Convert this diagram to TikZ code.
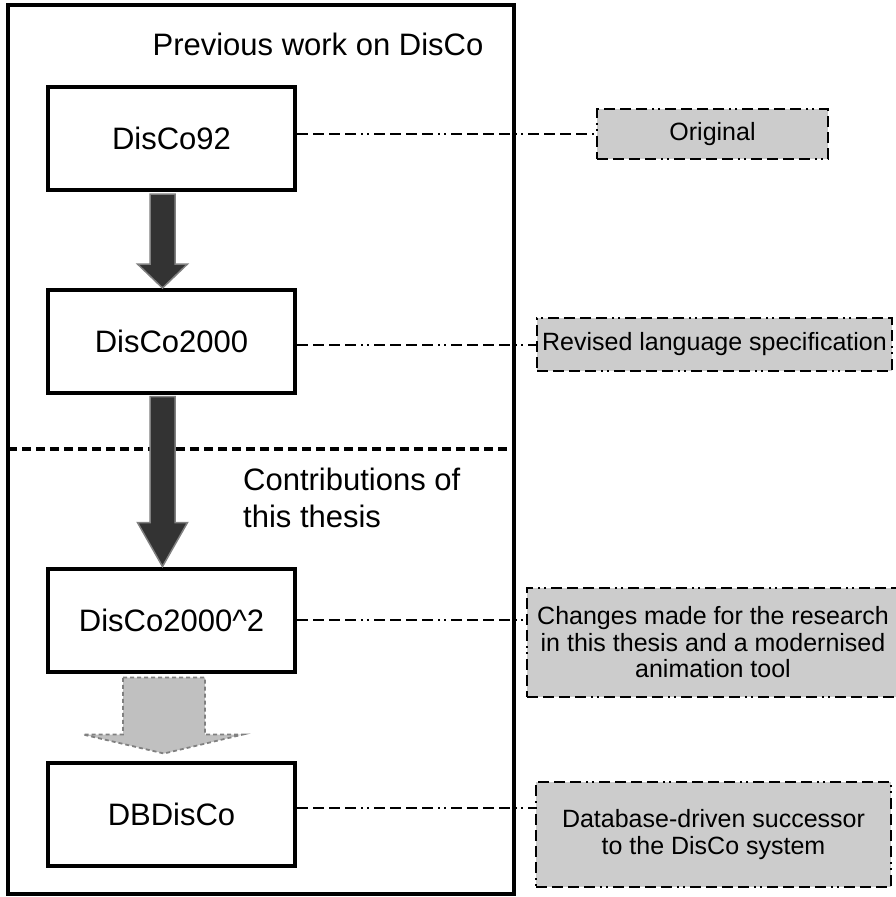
\documentclass[tikz,border=0pt]{standalone}
\usepackage{fontspec}
\setmainfont{Liberation Sans}
\definecolor{arrowdark}{HTML}{333333}
\definecolor{notefill}{HTML}{CCCCCC}
\definecolor{softgrey}{HTML}{C0C0C0}
\definecolor{rimgrey}{HTML}{808080}
\tikzset{
  stage/.style={draw, line width=4pt, minimum width=247pt, minimum height=103pt,
    font=\fontsize{31}{37}\selectfont},
  heading/.style={font=\fontsize{31}{36.7}\selectfont, inner sep=0pt},
  notedash/.style={dash pattern=on 11pt off 5pt on 11pt off 5pt on 11pt off 5pt
    on 11pt off 5pt on 2pt off 4pt on 2pt off 5pt},
  note/.style={draw, fill=notefill, line width=2pt, notedash, align=center,
    inner sep=2pt, font=\fontsize{25}{26.5}\selectfont},
  link/.style={line width=2pt, notedash},
  bigarrow/.style={fill=arrowdark, draw=rimgrey, line width=1.5pt},
  softarrow/.style={fill=softgrey, draw=rimgrey, line width=1.8pt, dash pattern=on 4pt off 3pt},
}

\begin{document}
\begin{tikzpicture}[x=1pt, y=-1pt]
  \useasboundingbox (0,0) rectangle (896,897);
  \node[draw, line width=4pt, minimum width=506pt, minimum height=889pt] (frame) at (261,449.5) {};

  \node[heading, anchor=base] (prev) at (318,55) {Previous work on DisCo};
  \node[heading, anchor=base west, align=left] (contrib) at (243,527) {Contributions of\\this thesis};

  \node[stage] (d92) at (171.5,138.5) {DisCo92};
  \node[stage] (d2000) at (171.5,341) {DisCo2000};
  \node[stage] (d2000sq) at (171.5,620) {DisCo2000\^{}2};
  \node[stage] (dbd) at (171.5,814.5) {DBDisCo};

  \node[note, minimum width=231pt, minimum height=50pt] (orig) at (712.5,134) {Original};
  \node[note, minimum width=355pt, minimum height=53pt] (rev) at (714.5,344.5) {Revised language specification};
  \node[note, minimum width=372pt, minimum height=109pt] (chg) at (713,642.5)
    {Changes made for the research\\in this thesis and a modernised\\animation tool};
  \node[note, minimum width=355pt, minimum height=105pt] (dbn) at (713.5,834.5)
    {Database-driven successor\\to the DisCo system};

  % split between earlier work and this thesis
  \coordinate (sepL) at (8,449);
  \coordinate (sepR) at (512,449);
  \draw[line width=3.5pt, dash pattern=on 9pt off 5pt] (sepL) -- (sepR);

  \draw[bigarrow] ([xshift=-21.5pt,yshift=-2pt]d92.south) -- ++(25,0) -- ++(0,70)
    -- ++(12.5,0) -- ++(-25,24) -- ++(-25,-24) -- ++(12.5,0) -- cycle;
  \draw[bigarrow] ([xshift=-21.5pt,yshift=-2pt]d2000.south) -- ++(25,0) -- ++(0,126)
    -- ++(12.5,0) -- ++(-25,44) -- ++(-25,-44) -- ++(12.5,0) -- cycle;
  \draw[softarrow] ([xshift=-48.5pt,yshift=-4pt]d2000sq.south) -- ++(82,0) -- ++(0,57)
    -- ++(38,0) -- ++(-79,19) -- ++(-81,-19) -- ++(40,0) -- cycle;

  \draw[link] (d92.east |- orig.west) -- (orig.west);
  \draw[link] (d2000.east |- rev.west) -- (rev.west);
  \draw[link] (d2000sq.east) -- (d2000sq.east -| chg.west);
  \draw[link] ([yshift=7pt]dbd.east) -- ([yshift=7pt]dbd.east -| dbn.west);
\end{tikzpicture}
\end{document}
